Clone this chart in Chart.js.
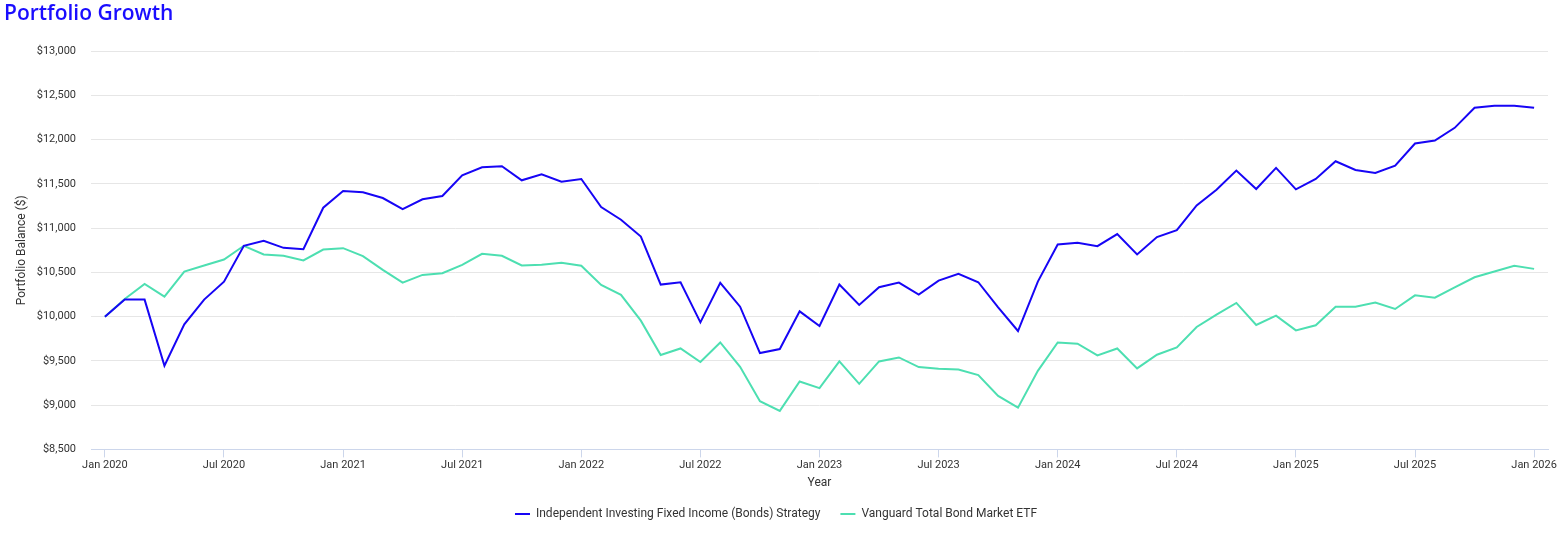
<!DOCTYPE html>
<html lang="en">
<head>
    <meta charset="UTF-8">
    <title>Portfolio Growth</title>
    <script src="https://cdn.jsdelivr.net/npm/chart.js"></script>
    <style>
        html, body { margin: 0; padding: 0; background: #fff; }
        #wrap { width: 1564px; height: 534px; position: relative; }
    </style>
</head>
<body>
    <div id="wrap"><canvas id="growthChart"></canvas></div>

    <script>
        // x ticks every 6 months, data is monthly from Jan 2020 to Jan 2026
        const tickLabels = ['Jan 2020', 'Jul 2020', 'Jan 2021', 'Jul 2021', 'Jan 2022', 'Jul 2022',
            'Jan 2023', 'Jul 2023', 'Jan 2024', 'Jul 2024', 'Jan 2025', 'Jul 2025', 'Jan 2026'];

        const strategyName = 'Independent Investing Fixed Income (Bonds) Strategy';
        const etfName = 'Vanguard Total Bond Market ETF';

        const strategyValues = [10000, 10193, 10193, 9445, 9913, 10193, 10396, 10801, 10858, 10778, 10763, 11231,
            11420, 11405, 11341, 11216, 11326, 11363, 11598, 11688, 11700, 11541, 11609, 11526,
            11556, 11239, 11095, 10906, 10363, 10389, 9936, 10382, 10113, 9589, 9634, 10060,
            9894, 10363, 10132, 10332, 10385, 10249, 10408, 10483, 10389, 10106, 9838, 10396,
            10816, 10835, 10797, 10933, 10703, 10899, 10978, 11258, 11435, 11651, 11443, 11681,
            11439, 11556, 11756, 11658, 11624, 11707, 11957, 11991, 12134, 12360, 12383, 12383,
            12360];

        const etfValues = [10000, 10200, 10370, 10227, 10510, 10578, 10646, 10801, 10703, 10688, 10635, 10759,
            10774, 10684, 10529, 10385, 10472, 10491, 10586, 10710, 10688, 10578, 10586, 10608,
            10576, 10359, 10246, 9955, 9566, 9641, 9487, 9709, 9433, 9045, 8935, 9267,
            9192, 9494, 9241, 9494, 9539, 9430, 9411, 9403, 9339, 9105, 8972, 9388,
            9709, 9694, 9562, 9641, 9415, 9570, 9652, 9883, 10023, 10155, 9906, 10011,
            9845, 9902, 10113, 10113, 10159, 10087, 10241, 10215, 10332, 10445, 10510, 10574,
            10540];

        const toPoints = vals => vals.map((v, i) => ({ x: i, y: v }));

        const ctx = document.getElementById('growthChart').getContext('2d');

        new Chart(ctx, {
            type: 'line',
            data: {
                datasets: [{
                    label: strategyName,
                    data: toPoints(strategyValues),
                    borderColor: '#1705f5',
                    backgroundColor: '#1705f5',
                    borderWidth: 2,
                    pointRadius: 0,
                    tension: 0
                }, {
                    label: etfName,
                    data: toPoints(etfValues),
                    borderColor: '#4ddfb1',
                    backgroundColor: '#4ddfb1',
                    borderWidth: 2,
                    pointRadius: 0,
                    tension: 0
                }]
            },
            options: {
                responsive: true,
                maintainAspectRatio: false,
                animation: false,
                layout: { padding: { left: 4, right: 16, top: 0, bottom: 4 } },
                plugins: {
                    title: {
                        display: true,
                        text: 'Portfolio Growth',
                        align: 'start',
                        color: '#1a0dff',
                        font: { family: 'Open Sans', size: 21, weight: 600 },
                        padding: { top: 1, bottom: 25 }
                    },
                    legend: {
                        position: 'bottom',
                        labels: {
                            boxWidth: 15,
                            boxHeight: 0,
                            padding: 20,
                            color: '#333',
                            font: { family: 'Roboto', size: 12 }
                        }
                    },
                    tooltip: { enabled: false }
                },
                scales: {
                    x: {
                        type: 'linear',
                        min: -0.7,
                        max: 72.7,
                        border: { color: '#ccd6eb', width: 1 },
                        grid: {
                            drawOnChartArea: false,
                            drawTicks: true,
                            tickLength: 8,
                            tickColor: '#ccd6eb'
                        },
                        ticks: {
                            stepSize: 6,
                            includeBounds: false,
                            autoSkip: false,
                            maxRotation: 0,
                            padding: 1,
                            color: '#333',
                            font: { family: 'Roboto', size: 11 },
                            callback: v => tickLabels[v / 6] || ''
                        },
                        title: {
                            display: true,
                            text: 'Year',
                            color: '#333',
                            font: { family: 'Roboto', size: 12 },
                            padding: { top: 3, bottom: -2 }
                        }
                    },
                    y: {
                        min: 8500,
                        max: 13000,
                        border: { display: false },
                        grid: { color: '#e6e6e6', drawTicks: false },
                        afterFit: scale => { scale.width = 87; },
                        ticks: {
                            stepSize: 500,
                            padding: 15,
                            color: '#333',
                            font: { family: 'Roboto', size: 11 },
                            callback: v => '$' + v.toLocaleString('en-US')
                        },
                        title: {
                            display: true,
                            text: 'Portfolio Balance ($)',
                            color: '#333',
                            font: { family: 'Roboto', size: 12 },
                            padding: { top: 11, bottom: 0 }
                        }
                    }
                }
            }
        });
    </script>
</body>
</html>
